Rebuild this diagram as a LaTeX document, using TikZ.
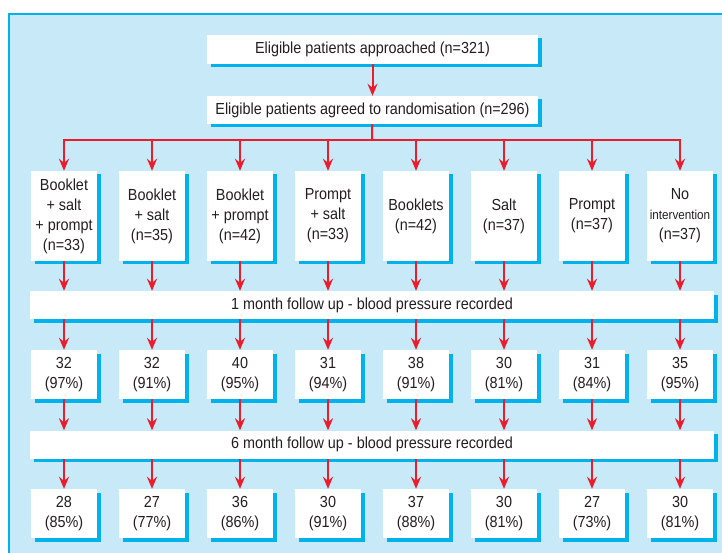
\documentclass[tikz,border=0pt]{standalone}
\usepackage{fontspec}
\setmainfont{Liberation Sans}[FakeStretch=0.9]
\usetikzlibrary{arrows.meta,positioning,shadows,calc}

\definecolor{panelblue}{HTML}{C8E9F8}
\definecolor{shadowblue}{HTML}{00B2EC}
\definecolor{arrowred}{HTML}{EC1C2A}
\definecolor{inkgrey}{HTML}{231F20}

\tikzset{
  flowbox/.style={rectangle, fill=white, text=inkgrey, align=center,
    inner sep=0pt, font=\fontsize{16}{20}\selectfont,
    drop shadow={fill=shadowblue, opacity=1, shadow xshift=3.5pt, shadow yshift=-3.5pt}},
  groupbox/.style={flowbox, minimum width=66pt, minimum height=90pt},
  countbox/.style={flowbox, minimum width=66pt, minimum height=49pt},
  widebar/.style={flowbox, minimum width=684pt, minimum height=28pt},
  redline/.style={draw=arrowred, line width=2pt},
  flowarrow/.style={redline, -{Stealth[length=12pt, width=10pt, inset=4pt]}}
}

\begin{document}
\begin{tikzpicture}[x=1pt, y=1pt, node distance=88pt]
  \useasboundingbox (0,0) rectangle (722,552);
  \begin{scope}
    \clip (0,0) rectangle (722,552);
    \draw[fill=panelblue, draw=shadowblue, line width=1.2pt] (9,-10) rectangle (740,538);
  \end{scope}

  % top of the flow
  \node[flowbox, minimum width=331pt, minimum height=29pt] at (372.5,502.5) (approached) {Eligible patients approached (n=321)};
  \node[flowbox, minimum width=331pt, minimum height=28pt] at (372.5,442) (agreed) {Eligible patients agreed to randomisation (n=296)};
  \coordinate (split) at (372,412);

  % randomised groups
  \node[groupbox] at (64,336) (g1) {Booklet\\+ salt\\+ prompt\\(n=33)};
  \node[groupbox, right of=g1] (g2) {Booklet\\+ salt\\(n=35)};
  \node[groupbox, right of=g2] (g3) {Booklet\\+ prompt\\(n=42)};
  \node[groupbox, right of=g3] (g4) {Prompt\\+ salt\\(n=33)};
  \node[groupbox, right of=g4] (g5) {Booklets\\(n=42)};
  \node[groupbox, right of=g5] (g6) {Salt\\(n=37)};
  \node[groupbox, right of=g6] (g7) {Prompt\\(n=37)};
  \node[groupbox, right of=g7] (g8) {No\\{\fontsize{13}{20}\selectfont intervention}\\(n=37)};

  % follow up bars
  \node[widebar] at (372,247) (month1) {1 month follow up - blood pressure recorded};
  \node[widebar] at (372,107.5) (month6) {6 month follow up - blood pressure recorded};

  % counts at 1 month
  \node[countbox, below of=g1, node distance=158.5pt] (a1) {32\\(97\%)};
  \node[countbox, below of=g2, node distance=158.5pt] (a2) {32\\(91\%)};
  \node[countbox, below of=g3, node distance=158.5pt] (a3) {40\\(95\%)};
  \node[countbox, below of=g4, node distance=158.5pt] (a4) {31\\(94\%)};
  \node[countbox, below of=g5, node distance=158.5pt] (a5) {38\\(91\%)};
  \node[countbox, below of=g6, node distance=158.5pt] (a6) {30\\(81\%)};
  \node[countbox, below of=g7, node distance=158.5pt] (a7) {31\\(84\%)};
  \node[countbox, below of=g8, node distance=158.5pt] (a8) {35\\(95\%)};

  % counts at 6 months
  \node[countbox, below of=a1, node distance=139pt] (b1) {28\\(85\%)};
  \node[countbox, below of=a2, node distance=139pt] (b2) {27\\(77\%)};
  \node[countbox, below of=a3, node distance=139pt] (b3) {36\\(86\%)};
  \node[countbox, below of=a4, node distance=139pt] (b4) {30\\(91\%)};
  \node[countbox, below of=a5, node distance=139pt] (b5) {37\\(88\%)};
  \node[countbox, below of=a6, node distance=139pt] (b6) {30\\(81\%)};
  \node[countbox, below of=a7, node distance=139pt] (b7) {27\\(73\%)};
  \node[countbox, below of=a8, node distance=139pt] (b8) {30\\(81\%)};

  \draw[flowarrow] (approached) -- (agreed);
  \draw[redline] (agreed) -- (split);
  \foreach \i in {1,...,8} {
    \draw[flowarrow] (split) -| (g\i);
    \draw[flowarrow] (g\i) -- (g\i.south |- month1.north);
    \draw[flowarrow] (a\i.north |- month1.south) -- (a\i);
    \draw[flowarrow] (a\i) -- (a\i.south |- month6.north);
    \draw[flowarrow] (b\i.north |- month6.south) -- (b\i);
  }
\end{tikzpicture}
\end{document}
